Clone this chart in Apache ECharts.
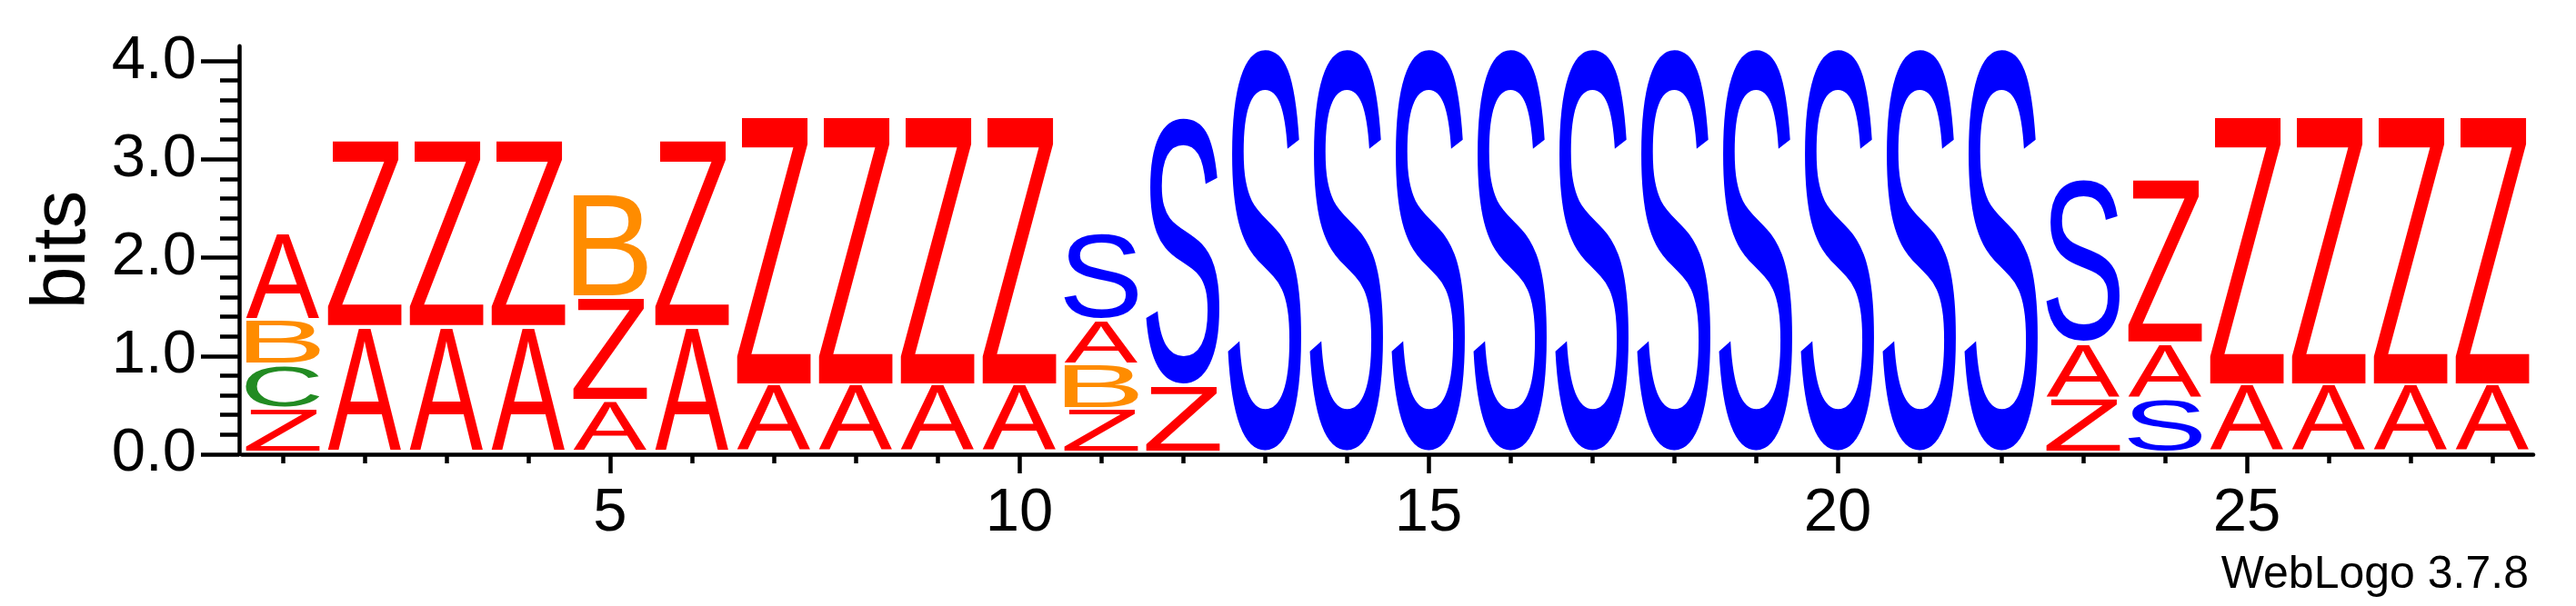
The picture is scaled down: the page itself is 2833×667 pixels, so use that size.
<!DOCTYPE html>
<html><head><meta charset="utf-8">
<script src="https://cdn.jsdelivr.net/npm/echarts@6/dist/echarts.min.js"></script>
<style>html,body{margin:0;padding:0;background:#fff}#c{width:2833px;height:667px}</style>
</head><body><div id="c"></div>
<script>
const positions = [1,2,3,4,5,6,7,8,9,10,11,12,13,14,15,16,17,18,19,20,21,22,23,24,25,26,27,28];
// letters of each stack, bottom to top
const stackLetters = [
  ['Z','C','B','A'],
  ['A','Z'], ['A','Z'], ['A','Z'],
  ['A','Z','B'],
  ['A','Z'],
  ['A','Z'], ['A','Z'], ['A','Z'], ['A','Z'],
  ['Z','B','A','S'],
  ['Z','S'],
  ['S'], ['S'], ['S'], ['S'], ['S'], ['S'], ['S'], ['S'], ['S'], ['S'],
  ['Z','A','S'],
  ['S','A','Z'],
  ['A','Z'], ['A','Z'], ['A','Z'], ['A','Z']
];
// heights (bits) of each letter, same order
const stackHeights = [
  [0.448, 0.441, 0.451, 0.891],
  [1.275, 1.903], [1.275, 1.903], [1.275, 1.903],
  [0.522, 1.052, 1.050],
  [1.275, 1.903],
  [0.681, 2.738], [0.681, 2.738], [0.681, 2.738], [0.681, 2.738],
  [0.444, 0.451, 0.447, 0.888],
  [0.681, 2.748],
  [4.139], [4.139], [4.139], [4.139], [4.139], [4.139], [4.139], [4.139], [4.139], [4.139],
  [0.550, 0.558, 1.671],
  [0.550, 0.558, 1.671],
  [0.681, 2.738], [0.681, 2.738], [0.681, 2.738], [0.681, 2.738]
];
const xLabelValues = [5, 10, 15, 20, 25];
const yLabelValues = [0, 1, 2, 3, 4];
const yMinorValues = [0.2,0.4,0.6,0.8,1.2,1.4,1.6,1.8,2.2,2.4,2.6,2.8,3.2,3.4,3.6,3.8];
const yMax = 4.15;
const LETTERS = ['A','B','C','S','Z'];
const letterColors = {A:'#ff0000', B:'#ff8c00', C:'#228b22', S:'#0000ff', Z:'#ff0000'};

// ---- build series data ----
const data = [];
positions.forEach((p, i) => {
  let cum = 0;
  stackLetters[i].forEach((ch, j) => {
    const h = stackHeights[i][j];
    data.push([p, cum, cum + h, LETTERS.indexOf(ch)]);
    cum += h;
  });
});

const GLYPH_FONT = '200px "Liberation Sans"';
const mctx = document.createElement('canvas').getContext('2d');
mctx.font = GLYPH_FONT; mctx.textBaseline = 'middle'; mctx.textAlign = 'left';
const metricCache = {};
function metrics(ch) {
  if (!metricCache[ch]) {
    const m = mctx.measureText(ch);
    metricCache[ch] = {L: m.actualBoundingBoxLeft, R: m.actualBoundingBoxRight,
                       A: m.actualBoundingBoxAscent, D: m.actualBoundingBoxDescent};
  }
  return metricCache[ch];
}
const HALF_W = 0.45, PAD = 1.7, SHIFT = 2.6;

function renderItem(params, api) {
  const pos = api.value(0), y0 = api.value(1), y1 = api.value(2);
  const ch = LETTERS[api.value(3)];
  const tl = api.coord([pos - HALF_W, y1]);
  const br = api.coord([pos + HALF_W, y0]);
  const x0 = tl[0], x1 = br[0];
  const yTop = tl[1] + PAD - SHIFT, yBot = br[1] - PAD - SHIFT;
  const m = metrics(ch);
  const sx = (x1 - x0) / (m.L + m.R), sy = (yBot - yTop) / (m.A + m.D);
  return {
    type: 'text', x: x0 + sx * m.L, y: yTop + sy * m.A, scaleX: sx, scaleY: sy,
    style: {text: ch, x: 0, y: 0, font: GLYPH_FONT, fill: letterColors[ch],
            align: 'left', verticalAlign: 'middle', textAlign: 'left', textVerticalAlign: 'middle'}
  };
}

const AX = '#000';
const chart = echarts.init(document.getElementById('c'), null, {renderer: 'canvas'});
chart.setOption({
  animation: false,
  backgroundColor: '#fff',
  grid: {left: 266, right: 47, top: 50.8, bottom: 167, containLabel: false, outerBoundsMode: 'none'},
  xAxis: [{
    type: 'value', min: 0.5, max: 28.5, position: 'bottom',
    axisLine: {show: true, onZero: false, lineStyle: {color: AX, width: 4.5}},
    axisTick: {show: true, customValues: positions, length: 10, lineStyle: {color: AX, width: 4.5}},
    axisLabel: {show: true, customValues: xLabelValues, fontSize: 67, fontFamily: 'Liberation Sans', color: AX, margin: 32},
    splitLine: {show: false}
  }, {
    type: 'value', min: 0.5, max: 28.5, position: 'bottom',
    axisLine: {show: false},
    axisTick: {show: true, customValues: xLabelValues, length: 21, lineStyle: {color: AX, width: 4.5}},
    axisLabel: {show: false}, splitLine: {show: false}
  }],
  yAxis: [{
    type: 'value', min: 0, max: yMax, position: 'left', offset: 3,
    axisLine: {show: true, onZero: false, lineStyle: {color: AX, width: 4.5}},
    axisTick: {show: true, customValues: yLabelValues, length: 42, lineStyle: {color: AX, width: 4.5}},
    axisLabel: {show: true, customValues: yLabelValues, formatter: v => v.toFixed(1),
                fontSize: 67, fontFamily: 'Liberation Sans', color: AX, margin: 47},
    splitLine: {show: false}
  }, {
    type: 'value', min: 0, max: yMax, position: 'left', offset: 3,
    axisLine: {show: false},
    axisTick: {show: true, customValues: yMinorValues, length: 21, lineStyle: {color: AX, width: 4.5}},
    axisLabel: {show: false}, splitLine: {show: false}
  }],
  graphic: [
    {type: 'text', x: 70, y: 275, rotation: Math.PI / 2,
     style: {text: 'bits', font: '84px "Liberation Sans"', fill: AX,
             align: 'center', verticalAlign: 'middle', textAlign: 'center', textVerticalAlign: 'middle'}},
    {type: 'text', x: 2781, y: 633,
     style: {text: 'WebLogo 3.7.8', font: '50px "Liberation Sans"', fill: AX,
             align: 'right', verticalAlign: 'middle', textAlign: 'right', textVerticalAlign: 'middle'}}
  ],
  series: [{
    type: 'custom', renderItem: renderItem, data: data,
    xAxisIndex: 0, yAxisIndex: 0, encode: {x: 0, y: [1, 2]}, clip: false, silent: true
  }]
});
</script></body></html>
